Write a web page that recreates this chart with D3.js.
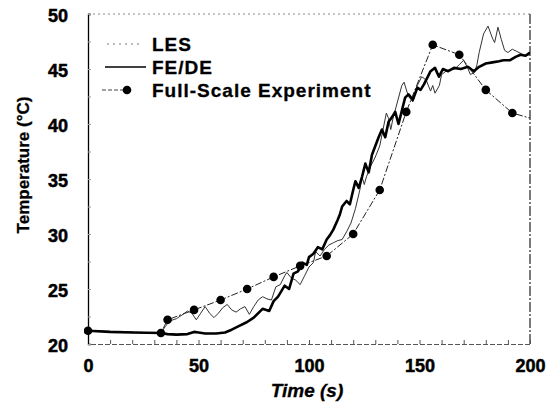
<!DOCTYPE html>
<html>
<head>
<meta charset="utf-8">
<script src="https://cdn.jsdelivr.net/npm/d3@7"></script>
<style>
  html, body { margin: 0; padding: 0; background: #fff; }
  svg { display: block; font-family: "Liberation Sans", Arial, sans-serif; }
</style>
</head>
<body>
<div id="chart"></div>
<script>
// Full-scale experiment (thermocouple readings)
const expTime = [0, 33, 36, 48, 60, 72, 84, 96, 108, 120, 132, 144, 156, 168, 180, 192, 204];
const expTemp = [21.2, 21.0, 22.2, 23.1, 24.0, 25.0, 26.1, 27.1, 28.0, 30.0, 34.0, 41.1, 47.2, 46.3, 43.1, 41.0, 40.3];

// LES prediction
const lesTime = [0, 10, 20, 30, 33, 35, 37, 40, 43, 45, 47, 49, 51, 53, 55, 57, 59, 61, 63, 65, 67, 69, 71, 73, 75, 77, 79, 81, 83, 85, 87, 89, 90, 92, 94, 96, 98, 100, 102, 103, 105, 107, 109, 111, 113, 115, 117, 119, 121, 123, 124, 125, 126, 128, 130, 132, 133, 135, 136, 137, 138, 140, 142, 143, 145, 147, 149, 151, 153, 155, 156, 157, 159, 160, 162, 164, 166, 168, 170, 172, 173, 175, 176, 177, 179, 181, 183, 184, 185.5, 187, 188.5, 190, 192, 194, 196, 198, 200];
const lesTemp = [21.2, 21.1, 21.05, 21.0, 21.0, 21.6, 22.1, 22.3, 22.7, 23.0, 22.8, 22.2, 22.8, 23.4, 22.8, 22.4, 22.8, 23.3, 23.6, 23.1, 22.9, 23.2, 23.4, 22.7, 23.4, 24.0, 24.3, 24.1, 24.0, 25.2, 25.4, 26.2, 26.5, 26.0, 25.8, 25.4, 26.2, 27.0, 27.4, 28.4, 28.0, 28.6, 29.0, 29.2, 29.4, 29.5, 30.2, 31.0, 32.3, 34.0, 35.2, 34.5, 35.2, 36.2, 37.0, 38.0, 39.0, 41.0, 40.5, 39.5, 40.5, 42.0, 43.5, 43.8, 42.5, 42.0, 43.5, 44.3, 44.0, 43.0, 43.5, 42.8, 43.5, 44.5, 44.8, 44.9, 45.0, 45.4, 45.8, 45.0, 44.5, 44.7, 45.4, 46.5, 48.2, 48.9, 47.8, 47.4, 48.8, 47.7, 46.7, 46.5, 46.8, 46.6, 46.4, 46.2, 46.3];

// FE/DE prediction
const fdTime = [0, 10, 20, 33, 36, 40, 45, 48, 50, 53, 58, 62, 65, 68, 72, 75, 79, 82, 84, 86, 89, 91, 93, 95, 97, 99, 100, 102, 104, 106, 108, 109.5, 111, 113, 114, 115, 117, 118.5, 120, 121, 122.5, 124, 125.5, 127, 128.5, 130, 131.5, 133, 134.5, 136, 137.5, 139, 140.5, 142, 143.5, 145, 147, 149, 150.5, 152, 154, 155, 157, 158.8, 160.6, 163, 165.6, 168.7, 171.9, 174.6, 177, 180, 183, 186, 188, 191, 193.5, 195.7, 198, 200];
const fdTemp = [21.2, 21.1, 21.05, 21.0, 20.9, 20.85, 20.9, 21.1, 21.05, 20.95, 20.95, 21.05, 21.3, 21.6, 22.0, 22.4, 23.2, 23.0, 23.9, 24.3, 25.3, 25.0, 26.4, 26.6, 27.4, 27.2, 27.9, 28.2, 28.8, 28.6, 29.5, 29.9, 30.4, 31.3, 31.8, 32.5, 33.0, 32.7, 34.0, 34.8, 34.2, 35.2, 36.4, 35.6, 37.2, 38.0, 38.8, 39.5, 38.8, 40.2, 40.6, 41.1, 40.0, 41.2, 42.4, 42.7, 42.2, 43.3, 43.1, 43.6, 44.4, 44.8, 45.1, 44.3, 45.0, 44.8, 45.1, 45.0, 45.2, 44.8, 45.2, 45.5, 45.6, 45.7, 45.8, 45.8, 46.1, 46.3, 46.2, 46.5];

const xTicks = [0, 50, 100, 150, 200];
const yTicks = [20, 25, 30, 35, 40, 45, 50];
const legendLabels = ["LES", "FE/DE", "Full-Scale Experiment"];

const width = 550, height = 406;
const margin = { top: 14, right: 20, bottom: 62, left: 88 };

const zip = (a, b) => a.map((v, i) => [v, b[i]]);
const les = zip(lesTime, lesTemp);
const fd = zip(fdTime, fdTemp);
const exp = zip(expTime, expTemp);

const svg = d3.select("#chart").append("svg")
  .attr("width", width)
  .attr("height", height);

const x = d3.scaleLinear().domain([0, 200]).range([margin.left, width - margin.right]);
const y = d3.scaleLinear().domain([20, 50]).range([height - margin.bottom, margin.top]);

svg.append("clipPath").attr("id", "plot")
  .append("rect")
  .attr("x", x(0) - 4).attr("y", y(50) - 4)
  .attr("width", x(200) - x(0) + 4).attr("height", y(20) - y(50) + 8);

// frame: dotted top, dash-dot right (scanned look)
svg.append("line")
  .attr("x1", x(0)).attr("x2", x(200)).attr("y1", y(50)).attr("y2", y(50))
  .attr("stroke", "#888").attr("stroke-width", 1).attr("stroke-dasharray", "2,3");
svg.append("line")
  .attr("x1", x(200)).attr("x2", x(200)).attr("y1", y(50)).attr("y2", y(20))
  .attr("stroke", "#222").attr("stroke-width", 1.2).attr("stroke-dasharray", "10,2,2,2");

// bottom axis
const xAxis = svg.append("g")
  .attr("transform", `translate(0,${y(20)})`)
  .call(d3.axisBottom(x).tickValues(d3.range(0, 201, 10)).tickSize(-4).tickFormat(""));
xAxis.select(".domain").attr("stroke", "#555").attr("stroke-dasharray", "5,2");
xAxis.selectAll(".tick line").attr("stroke", "#555");

svg.append("g")
  .attr("transform", `translate(0,${y(20)})`)
  .call(d3.axisBottom(x).tickValues(xTicks).tickSize(0).tickPadding(15))
  .call((g) => g.select(".domain").remove())
  .selectAll("text")
  .attr("font-size", 18).attr("font-weight", "bold").attr("fill", "#000")
  .attr("stroke", "#000").attr("stroke-width", 0.5);

// left axis
const yAxis = svg.append("g")
  .attr("transform", `translate(${x(0)},0)`)
  .call(d3.axisLeft(y).tickValues(d3.range(20, 50.1, 2.5)).tickSize(-3).tickFormat(""));
yAxis.select(".domain").attr("stroke", "#000").attr("stroke-width", 1.3);
yAxis.selectAll(".tick line").attr("stroke", "#999");

svg.append("g")
  .attr("transform", `translate(${x(0)},2)`)
  .call(d3.axisLeft(y).tickValues(yTicks).tickSize(0).tickPadding(20))
  .call((g) => g.select(".domain").remove())
  .selectAll("text")
  .attr("font-size", 18).attr("font-weight", "bold").attr("fill", "#000")
  .attr("stroke", "#000").attr("stroke-width", 0.5);

// axis titles
svg.append("text")
  .attr("x", (x(0) + x(200)) / 2 - 2)
  .attr("y", 397)
  .attr("text-anchor", "middle")
  .attr("font-size", 19).attr("font-weight", "bold").attr("font-style", "italic")
  .attr("stroke", "#000").attr("stroke-width", 0.3)
  .text("Time (s)");

svg.append("text")
  .attr("transform", `translate(29,${(y(20) + y(50)) / 2 - 14}) rotate(-90)`)
  .attr("text-anchor", "middle")
  .attr("font-size", 17).attr("font-weight", "bold")
  .attr("stroke", "#000").attr("stroke-width", 0.3)
  .text("Temperature (°C)");

const line = d3.line().x((d) => x(d[0])).y((d) => y(d[1]));
const plot = svg.append("g").attr("clip-path", "url(#plot)");

plot.append("path").datum(exp)
  .attr("d", line).attr("fill", "none")
  .attr("stroke", "#222").attr("stroke-width", 1)
  .attr("stroke-dasharray", "7,2,2,2");

plot.append("path").datum(les)
  .attr("d", line).attr("fill", "none")
  .attr("stroke", "#333").attr("stroke-width", 1);

plot.append("path").datum(fd)
  .attr("d", line).attr("fill", "none")
  .attr("stroke", "#000").attr("stroke-width", 2.6)
  .attr("stroke-linejoin", "round");

plot.selectAll("circle").data(exp.filter((d) => d[0] <= 200)).join("circle")
  .attr("cx", (d) => x(d[0])).attr("cy", (d) => y(d[1]))
  .attr("r", 4.3).attr("fill", "#000");

// legend
const legend = svg.append("g");
const legY = [44, 67, 90];
legendLabels.forEach((label, i) => {
  legend.append("text")
    .attr("x", 152).attr("y", legY[i] + 7)
    .attr("font-size", 19).attr("font-weight", "bold")
    .attr("letter-spacing", 1)
    .attr("stroke", "#000").attr("stroke-width", 0.3)
    .text(label);
});
legend.append("line")
  .attr("x1", 107).attr("x2", 140).attr("y1", legY[0]).attr("y2", legY[0])
  .attr("stroke", "#777").attr("stroke-width", 1).attr("stroke-dasharray", "2,4");
legend.append("line")
  .attr("x1", 105).attr("x2", 146).attr("y1", legY[1]).attr("y2", legY[1])
  .attr("stroke", "#000").attr("stroke-width", 1.6);
legend.append("line")
  .attr("x1", 102).attr("x2", 126).attr("y1", legY[2]).attr("y2", legY[2])
  .attr("stroke", "#444").attr("stroke-width", 1).attr("stroke-dasharray", "4,2");
legend.append("circle")
  .attr("cx", 127).attr("cy", legY[2]).attr("r", 4.3).attr("fill", "#000");
</script>
</body>
</html>
